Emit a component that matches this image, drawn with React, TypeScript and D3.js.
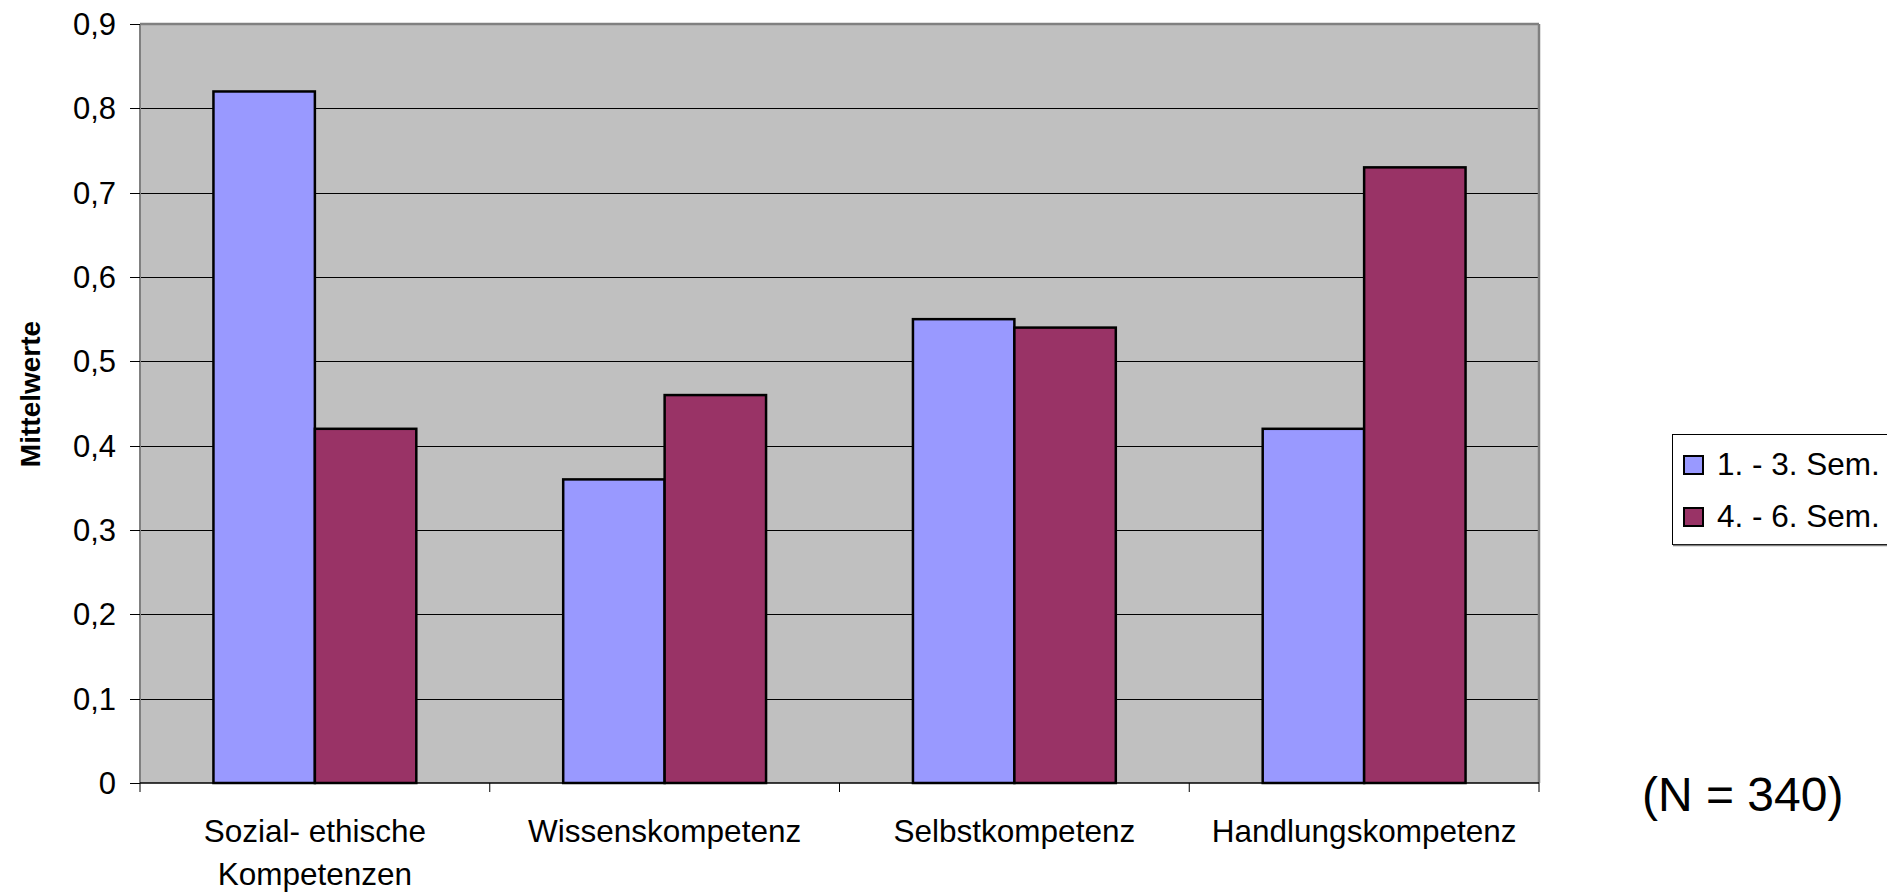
import React from "react";
import * as d3 from "d3";

const categories: string[][] = [
  ["Sozial- ethische", "Kompetenzen"],
  ["Wissenskompetenz"],
  ["Selbstkompetenz"],
  ["Handlungskompetenz"],
];
const seriesNames = ["1. - 3. Sem.", "4. - 6. Sem."];
const seriesColors = ["#9999FF", "#993366"];
const sem13 = [0.82, 0.36, 0.55, 0.42];
const sem46 = [0.42, 0.46, 0.54, 0.73];
const yTicks = [0, 0.1, 0.2, 0.3, 0.4, 0.5, 0.6, 0.7, 0.8, 0.9];
const yTitle = "Mittelwerte";
const note = "(N = 340)";

const W = 1887;
const H = 892;
const FONT = "'Liberation Sans', Arial, Helvetica, sans-serif";

export default function App() {
  const left = 140, right = 1539, top = 24, bottom = 783;
  const x = d3.scaleBand<number>().domain(d3.range(categories.length)).range([left, right]).padding(0);
  const bw = x.bandwidth();
  const gap = bw * 0.21;
  const xs = d3.scaleBand<number>().domain([0, 1]).range([gap, bw - gap]).padding(0);
  const y = d3.scaleLinear().domain([0, 0.9]).range([bottom, top]);
  const series = [sem13, sem46];
  const fmt = (v: number) => (v === 0 ? "0" : d3.format(".1f")(v).replace(".", ","));

  return (
    <svg width={W} height={H} style={{ position: "absolute", left: 0, top: 0, background: "#fff" }} fontFamily={FONT}>
      <rect x={left} y={top} width={right - left} height={bottom - top} fill="#C0C0C0" />
      {yTicks.slice(1, -1).map((t) => (
        <line key={"g" + t} x1={left} x2={right} y1={Math.round(y(t)) + 0.5} y2={Math.round(y(t)) + 0.5} stroke="#000" strokeWidth={1} />
      ))}
      {/* plot border */}
      <line x1={left} x2={right} y1={top} y2={top} stroke="#808080" strokeWidth={2.5} />
      <line x1={right} x2={right} y1={top} y2={bottom} stroke="#808080" strokeWidth={2.5} />
      <line x1={left} x2={left} y1={top} y2={bottom} stroke="#808080" strokeWidth={2} />
      {/* bars */}
      {series.map((vals, si) =>
        vals.map((v, ci) => (
          <rect
            key={si + "-" + ci}
            x={(x(ci) as number) + (xs(si) as number)}
            y={y(v)}
            width={xs.bandwidth()}
            height={bottom - y(v)}
            fill={seriesColors[si]}
            stroke="#000"
            strokeWidth={2.5}
          />
        ))
      )}
      {/* x axis line */}
      <line x1={left} x2={right} y1={bottom} y2={bottom} stroke="#000" strokeWidth={1.5} />
      {d3.range(categories.length + 1).map((i) => {
        const xx = i < categories.length ? (x(i) as number) : right;
        return <line key={"xt" + i} x1={xx} x2={xx} y1={bottom} y2={bottom + 9} stroke="#000" strokeWidth={1} />;
      })}
      {/* y ticks */}
      {yTicks.map((t) => (
        <g key={"yt" + t}>
          <line x1={130} x2={left} y1={Math.round(y(t)) + 0.5} y2={Math.round(y(t)) + 0.5} stroke="#000" strokeWidth={1} />
          <text x={116} y={y(t)} dy="0.36em" textAnchor="end" fontSize={31} fill="#000">
            {fmt(t)}
          </text>
        </g>
      ))}
      {/* category labels */}
      {categories.map((lines, ci) => (
        <text key={"c" + ci} x={(x(ci) as number) + bw / 2} y={842} textAnchor="middle" fontSize={31.5} fill="#000">
          {lines.map((l, li) => (
            <tspan key={li} x={(x(ci) as number) + bw / 2} dy={li === 0 ? 0 : 43}>
              {l}
            </tspan>
          ))}
        </text>
      ))}
      {/* y title */}
      <text transform={`translate(40, 394) rotate(-90)`} textAnchor="middle" fontSize={28} fontWeight="bold" fill="#000">
        {yTitle}
      </text>
      {/* legend */}
      <rect x={1672.5} y={434.5} width={240} height={110} fill="#fff" stroke="#000" strokeWidth={1} />
      <line x1={1673} x2={1887} y1={545.5} y2={545.5} stroke="#808080" strokeWidth={1.5} />
      {seriesNames.map((n, i) => (
        <g key={"l" + i}>
          <rect x={1684} y={456 + i * 52} width={19} height={18} fill={seriesColors[i]} stroke="#000" strokeWidth={2} />
          <text x={1717} y={475 + i * 52} fontSize={31.5} fill="#000">
            {n}
          </text>
        </g>
      ))}
      <text x={1642} y={811} fontSize={48} fill="#000">
        {note}
      </text>
    </svg>
  );
}
